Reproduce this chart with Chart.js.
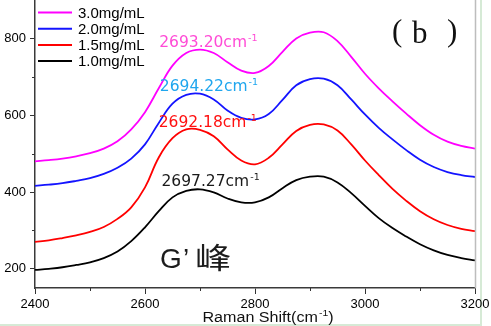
<!DOCTYPE html>
<html>
<head>
<meta charset="utf-8">
<script src="https://cdn.jsdelivr.net/npm/chart.js@4.4.1/dist/chart.umd.min.js"></script>
<style>
  html, body { margin: 0; padding: 0; background: #fff; }
</style>
</head>
<body>
<canvas id="chart" width="491" height="326"></canvas>
<script>
// Raman shift axis (cm-1), sampled every 25
const shifts = [2400, 2425, 2450, 2475, 2500, 2525, 2550, 2575, 2600, 2625, 2650,
  2675, 2700, 2725, 2750, 2775, 2800, 2825, 2850, 2875, 2900, 2925, 2950, 2975,
  3000, 3025, 3050, 3075, 3100, 3125, 3150, 3175, 3200];

const seriesLabels = ['3.0mg/mL', '2.0mg/mL', '1.5mg/mL', '1.0mg/mL'];

const conc30 = [480, 483, 487, 493, 501, 513, 532, 563, 608, 670, 729, 762, 771, 762,
  738, 716, 710, 728, 765, 800, 815, 816, 793, 752, 708, 670, 636, 604, 574, 549,
  531, 520, 513];
const conc20 = [416, 419, 423, 429, 436, 447, 463, 487, 524, 580, 630, 653, 656, 641,
  612, 593, 589, 603, 640, 678, 694, 695, 678, 641, 602, 567, 537, 509, 484, 465,
  452, 444, 439];
const conc15 = [270, 274, 280, 287, 296, 309, 330, 360, 412, 490, 540, 563, 562, 545,
  511, 482, 472, 489, 524, 559, 575, 576, 560, 524, 482, 444, 408, 377, 350, 329,
  314, 304, 298];
const conc10 = [197, 200, 204, 210, 217, 228, 245, 272, 308, 350, 386, 403, 407, 399,
  383, 373, 373, 386, 410, 431, 440, 440, 425, 397, 364, 332, 306, 284, 264, 248,
  236, 228, 222];

// G' band position for each concentration (cm-1)
const peakShifts = [2693.20, 2694.22, 2692.18, 2697.27];

const xTicks = [2400, 2600, 2800, 3000, 3200];
const yTicks = [200, 400, 600, 800];
const xMinorTicks = [2500, 2700, 2900, 3100];
const yMinorTicks = [300, 500, 700];

const seriesValues = [conc30, conc20, conc15, conc10];
const lineColors = ['#ff00ff', '#1414ff', '#ff0000', '#000000'];
const peakLabelColors = ['#ff4bd6', '#1fa6ee', '#ff1010', '#1a1a1a'];

const datasets = seriesLabels.map((label, i) => ({
  label,
  data: shifts.map((s, k) => ({ x: s, y: seriesValues[i][k] })),
  borderColor: lineColors[i],
  borderWidth: 1.8,
  pointRadius: 0,
  fill: false,
  tension: 0.4
}));

function textWithSup(ctx, main, sup, x, y, font, supFont, rise) {
  ctx.font = font;
  ctx.fillText(main, x, y);
  const w = ctx.measureText(main).width;
  ctx.font = supFont;
  ctx.fillText(sup, x + w + 1, y - rise);
  return w + 1 + ctx.measureText(sup).width;
}

const overlay = {
  id: 'overlay',
  beforeDraw(chart) {
    // thin pale edge of the figure
    const ctx = chart.ctx;
    ctx.save();
    ctx.fillStyle = '#d6ead6';
    ctx.fillRect(480, 0, 2, 326);
    ctx.fillRect(0, 324, 482, 2);
    ctx.restore();
  },
  afterDraw(chart) {
    const { ctx, chartArea: a, scales } = chart;
    const xs = scales.x, ys = scales.y;
    ctx.save();

    // right frame
    ctx.strokeStyle = '#bdbdbd';
    ctx.lineWidth = 1.5;
    ctx.beginPath();
    ctx.moveTo(a.right + 0.5, a.top);
    ctx.lineTo(a.right + 0.5, a.bottom);
    ctx.stroke();

    // minor ticks
    ctx.strokeStyle = '#333';
    ctx.lineWidth = 1;
    ctx.beginPath();
    xMinorTicks.forEach(v => {
      const px = Math.round(xs.getPixelForValue(v)) + 0.5;
      ctx.moveTo(px, a.bottom);
      ctx.lineTo(px, a.bottom + 3);
    });
    yMinorTicks.forEach(v => {
      const py = Math.round(ys.getPixelForValue(v)) + 0.5;
      ctx.moveTo(a.left, py);
      ctx.lineTo(a.left - 3, py);
    });
    ctx.stroke();

    // legend, top left inside the plot
    ctx.textAlign = 'left';
    ctx.textBaseline = 'middle';
    ctx.font = '15px "Liberation Sans", Arial, sans-serif';
    chart.data.datasets.forEach((ds, i) => {
      const ly = a.top + 12.5 + i * 16.2;
      ctx.strokeStyle = ds.borderColor;
      ctx.lineWidth = 2;
      ctx.beginPath();
      ctx.moveTo(a.left + 3, ly);
      ctx.lineTo(a.left + 37, ly);
      ctx.stroke();
      ctx.fillStyle = '#000';
      ctx.fillText(ds.label, a.left + 43, ly + 1);
    });

    // peak position labels above the G' band
    ctx.textBaseline = 'alphabetic';
    peakShifts.forEach((p, i) => {
      let k = 0;
      shifts.forEach((s, j) => { if (Math.abs(s - p) < Math.abs(shifts[k] - p)) k = j; });
      const px = xs.getPixelForValue(p) - 37;
      const py = ys.getPixelForValue(seriesValues[i][k]) - 3;
      ctx.fillStyle = peakLabelColors[i];
      textWithSup(ctx, p.toFixed(2) + 'cm', '-1', px, py,
        '15.5px "DejaVu Sans", Verdana, sans-serif', '9.5px "DejaVu Sans", sans-serif', 6);
    });

    // panel tag
    ctx.fillStyle = '#111';
    ctx.font = '31px "Liberation Serif", "Times New Roman", serif';
    ctx.fillText('(', a.right - 83, a.top + 41);
    ctx.fillText('b', a.right - 63, a.top + 43);
    ctx.fillText(')', a.right - 28, a.top + 41);

    // band name
    ctx.fillStyle = '#1c1c1c';
    ctx.font = '28px "Liberation Sans", Arial, sans-serif';
    ctx.fillText('G', 160, 268);
    ctx.fillText('’', 183, 268);
    ctx.save();
    ctx.translate(195, 269);
    ctx.scale(1.25, 1);
    ctx.font = '29px "Noto Sans CJK SC", sans-serif';
    ctx.fillText('峰', 0, 0);
    ctx.restore();

    // x axis title
    ctx.save();
    ctx.translate((a.left + a.right) / 2 + 13, 0);
    ctx.scale(1.15, 1);
    ctx.fillStyle = '#111';
    const f = '14px "Liberation Sans", Arial, sans-serif';
    const sf = '9px "Liberation Sans", Arial, sans-serif';
    ctx.font = f;
    const wMain = ctx.measureText('Raman Shift(cm').width;
    ctx.font = sf;
    const wSup = ctx.measureText('-1').width;
    ctx.font = f;
    const wEnd = ctx.measureText(')').width;
    const x0 = -(wMain + 1 + wSup + wEnd) / 2;
    const used = textWithSup(ctx, 'Raman Shift(cm', '-1', x0, 322, f, sf, 6);
    ctx.font = f;
    ctx.fillText(')', x0 + used, 322);
    ctx.restore();

    ctx.restore();
  }
};

const tickFont = { family: '"Liberation Sans", Arial, sans-serif', size: 13 };

new Chart(document.getElementById('chart').getContext('2d'), {
  type: 'line',
  data: { datasets },
  options: {
    responsive: false,
    animation: false,
    devicePixelRatio: 1,
    layout: { padding: { left: 0, right: 16, top: 0, bottom: 0 } },
    plugins: { legend: { display: false }, tooltip: { enabled: false } },
    scales: {
      x: {
        type: 'linear',
        min: 2400,
        max: 3200,
        afterBuildTicks: s => { s.ticks = xTicks.map(v => ({ value: v })); },
        afterFit: s => { s.height = 38; s.paddingLeft = 0; s.paddingRight = 0; },
        grid: { drawOnChartArea: false, tickLength: 6, tickColor: '#333' },
        border: { color: '#3a3a3a', width: 1.5 },
        ticks: { font: tickFont, color: '#000', padding: 3, maxRotation: 0, callback: v => String(v) }
      },
      y: {
        min: 150,
        max: 900,
        afterBuildTicks: s => { s.ticks = yTicks.map(v => ({ value: v })); },
        afterFit: s => { s.width = 35; s.paddingTop = 0; s.paddingBottom = 0; },
        grid: { drawOnChartArea: false, tickLength: 5, tickColor: '#333' },
        border: { color: '#3a3a3a', width: 1.5 },
        ticks: { font: tickFont, color: '#000', padding: 4, callback: v => String(v) }
      }
    }
  },
  plugins: [overlay]
});
</script>
</body>
</html>
